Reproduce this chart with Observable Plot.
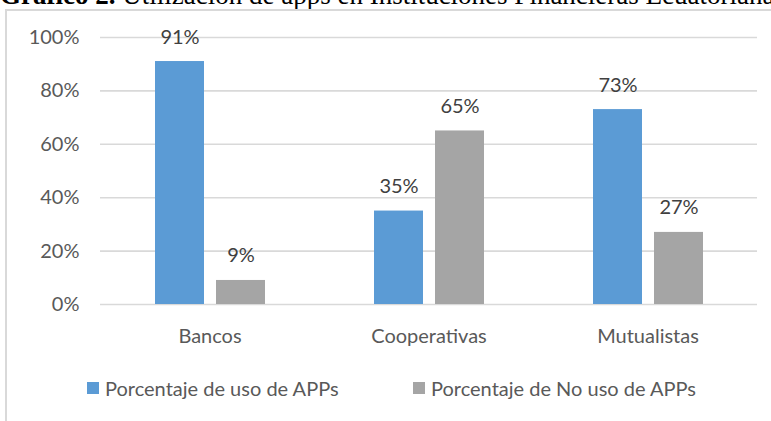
<!DOCTYPE html>
<html>
<head>
<meta charset="utf-8">
<script src="https://cdn.jsdelivr.net/npm/d3@7"></script>
<script src="https://cdn.jsdelivr.net/npm/@observablehq/plot@0.6"></script>
<style>
  html, body { margin: 0; padding: 0; background: #fff; }
  #wrap { position: relative; width: 771px; height: 421px; overflow: hidden; background: #fff; }
  #title { position: absolute; left: 0; top: -18px; white-space: nowrap; font-family: "Liberation Serif", "Times New Roman", serif; font-size: 27px; line-height: 27px; color: #000; }
  #frame { position: absolute; left: 5px; top: 9px; width: 900px; height: 600px; border-left: 2px solid #d9d9d9; border-top: 2px solid #d9d9d9; }
  #chart { position: absolute; left: 0; top: 0; }
  .leg { position: absolute; top: 376px; font-family: Lato, sans-serif; font-size: 20px; color: #595959; white-space: nowrap; display: flex; align-items: center; }
  .sw { display: inline-block; width: 12px; height: 12px; margin-right: 6px; }
</style>
</head>
<body>
<div id="wrap">
  <div id="title"><b>Gráfico 2.</b> Utilización de apps en Instituciones Financieras Ecuatorianas</div>
  <div id="frame"></div>
  <div id="chart"></div>
</div>
<script>
const categories = ["Bancos", "Cooperativas", "Mutualistas"];
const series = ["Porcentaje de uso de APPs", "Porcentaje de No uso de APPs"];
const usoValues = [0.91, 0.35, 0.73];
const noUsoValues = [0.09, 0.65, 0.27];
const colors = ["#5B9BD5", "#A5A5A5"];
const yTicks = [0, 0.2, 0.4, 0.6, 0.8, 1.0];

const data = [];
categories.forEach((c, i) => {
  data.push({category: c, series: series[0], value: usoValues[i]});
  data.push({category: c, series: series[1], value: noUsoValues[i]});
});

const fmt = d3.format(".0%");

const chart = Plot.plot({
  width: 771,
  height: 360,
  marginTop: 37,
  marginBottom: 56,
  marginLeft: 100,
  marginRight: 14,
  style: {fontFamily: "Lato, sans-serif", background: "transparent"},
  fx: {domain: categories, padding: 0, label: null},
  x: {domain: series, paddingInner: 0.197, paddingOuter: 0.893, axis: null},
  y: {domain: [0, 1], axis: null},
  color: {domain: series, range: colors},
  marks: [
    Plot.gridY(yTicks, {stroke: "#d9d9d9", strokeOpacity: 1, strokeWidth: 1.6}),
    Plot.axisY(yTicks, {tickSize: 0, tickPadding: 21, tickFormat: fmt, fontSize: 20, fill: "#595959", label: null}),
    Plot.axisFx({anchor: "bottom", tickSize: 0, tickPadding: 24, fontSize: 20, fill: "#595959", label: null}),
    Plot.barY(data, {fx: "category", x: "series", y: "value", fill: "series"}),
    Plot.text(data, {fx: "category", x: "series", y: "value", text: d => fmt(d.value), lineAnchor: "bottom", dy: -18, fontSize: 20, fill: "#404040"})
  ]
});
document.getElementById("chart").appendChild(chart);

const wrap = document.getElementById("wrap");
const legLefts = [87, 413];
series.forEach((s, i) => {
  const item = document.createElement("div");
  item.className = "leg";
  item.style.left = legLefts[i] + "px";
  const sw = document.createElement("span");
  sw.className = "sw";
  sw.style.background = colors[i];
  const t = document.createElement("span");
  t.textContent = s;
  item.appendChild(sw);
  item.appendChild(t);
  wrap.appendChild(item);
});
</script>
</body>
</html>
